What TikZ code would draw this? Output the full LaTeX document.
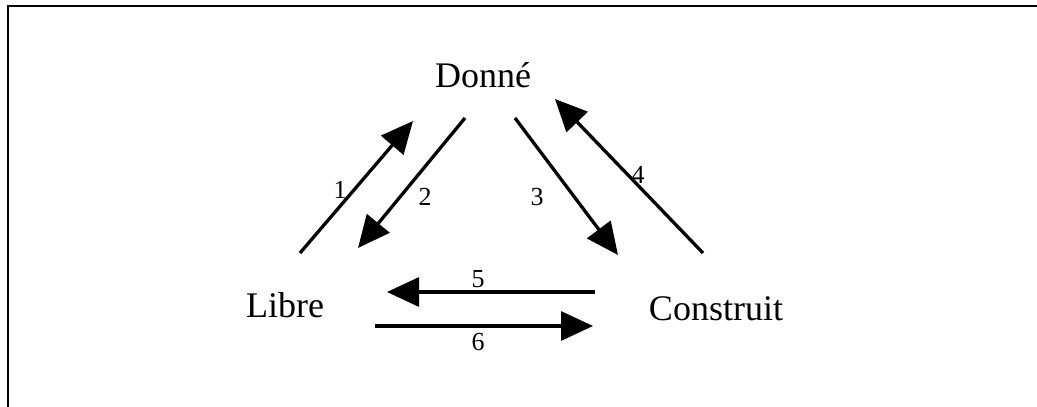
\documentclass[tikz,border=0pt]{standalone}
\usepackage{fontspec}
\setmainfont{Liberation Serif}
\usetikzlibrary{arrows.meta}

\begin{document}
\begin{tikzpicture}[x=1pt,y=-1pt,
  fleche/.style={line width=3.3pt,-{Triangle[length=32pt,width=29pt]}},
  mot/.style={font=\fontsize{36}{40}\selectfont,anchor=base,inner sep=0pt},
  num/.style={font=\fontsize{26}{30}\selectfont,inner sep=0pt}]
  \useasboundingbox (0,0) rectangle (1037,407);
  \draw[line width=2pt] (8,407) -- (8,6) -- (1037,6);
  \node[mot] (donne) at (483,87) {Donné};
  \node[mot] (libre) at (285,317) {Libre};
  \node[mot] (construit) at (716,320) {Construit};
  % ends of the arrows
  \coordinate (a1) at (300,253); \coordinate (b1) at (413,121);
  \coordinate (a2) at (465,118); \coordinate (b2) at (358,248);
  \coordinate (a3) at (515,118); \coordinate (b3) at (618,255);
  \coordinate (a4) at (703,253); \coordinate (b4) at (555,99);
  \coordinate (a5) at (595,292); \coordinate (b5) at (387,292);
  \coordinate (a6) at (375,326); \coordinate (b6) at (593,326);
  \foreach \n in {1,...,6}
    \draw[fleche] (a\n) -- (b\n);
  \foreach \n/\x/\y in {1/340/190,2/425/197,3/537/197,4/638/175,5/478/279,6/478/342}
    \node[num] (n\n) at (\x,\y) {\n};
\end{tikzpicture}
\end{document}
